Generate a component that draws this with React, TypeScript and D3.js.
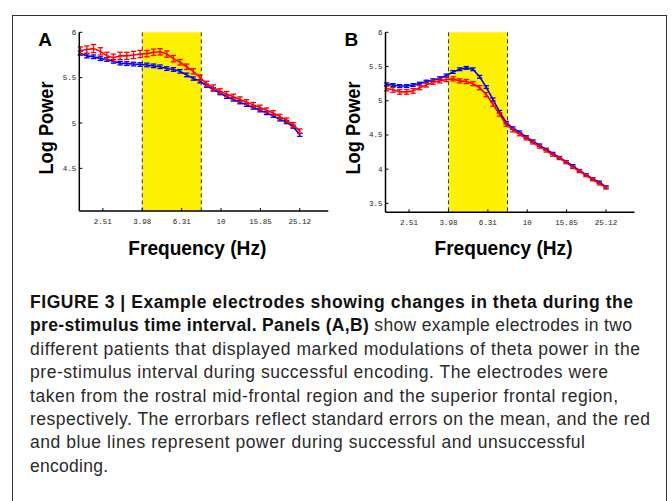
import React from "react"
import * as d3 from "d3"

// log-spaced analysis frequencies (Hz)
const FREQS = [
    1.93, 2.08, 2.25, 2.44, 2.63, 2.84, 3.07, 3.32, 3.59, 3.88, 4.2, 4.54,
    4.9, 5.3, 5.73, 6.19, 6.69, 7.23, 7.82, 8.45, 9.14, 9.88, 10.68, 11.54,
    12.48, 13.48, 14.58, 15.76, 17.03, 18.41, 19.9, 21.51, 23.25, 25.13,
]

// panel A, rostral mid-frontal electrode
const A_SUCCESS = [
    5.8, 5.81, 5.82, 5.79, 5.74, 5.72, 5.74, 5.74, 5.75, 5.76, 5.765, 5.78,
    5.785, 5.76, 5.71, 5.67, 5.62, 5.57, 5.5, 5.43, 5.39, 5.35, 5.32, 5.29,
    5.26, 5.23, 5.2, 5.17, 5.14, 5.11, 5.07, 5.03, 4.98, 4.91,
]
const A_SUCCESS_SE = [
    0.04, 0.04, 0.045, 0.04, 0.04, 0.04, 0.04, 0.04, 0.04, 0.04, 0.035, 0.035,
    0.035, 0.035, 0.035, 0.03, 0.03, 0.03, 0.03, 0.03, 0.03, 0.028, 0.028,
    0.028, 0.028, 0.027, 0.027, 0.027, 0.026, 0.026, 0.026, 0.025, 0.025, 0.025,
]
const A_FAIL = [
    5.77, 5.74, 5.73, 5.71, 5.7, 5.68, 5.66, 5.655, 5.65, 5.645, 5.64, 5.63,
    5.62, 5.6, 5.59, 5.57, 5.53, 5.49, 5.46, 5.41, 5.37, 5.33, 5.29, 5.26,
    5.23, 5.2, 5.17, 5.14, 5.11, 5.08, 5.04, 5.01, 4.96, 4.87,
]
const A_FAIL_SE = [
    0.022, 0.022, 0.02, 0.02, 0.02, 0.02, 0.02, 0.02, 0.02, 0.02, 0.02, 0.02,
    0.02, 0.02, 0.02, 0.02, 0.02, 0.018, 0.018, 0.018, 0.018, 0.018, 0.018,
    0.018, 0.018, 0.017, 0.017, 0.017, 0.017, 0.017, 0.017, 0.017, 0.017, 0.017,
]

// panel B, superior frontal electrode
const B_SUCCESS = [
    5.18, 5.16, 5.13, 5.13, 5.145, 5.19, 5.23, 5.27, 5.29, 5.31, 5.32, 5.29,
    5.28, 5.25, 5.19, 5.09, 4.95, 4.8, 4.65, 4.57, 4.51, 4.45, 4.39, 4.33,
    4.27, 4.21, 4.16, 4.1, 4.03, 3.97, 3.91, 3.85, 3.79, 3.73,
]
const B_SUCCESS_SE = [
    0.035, 0.035, 0.035, 0.035, 0.035, 0.03, 0.03, 0.03, 0.03, 0.03, 0.03,
    0.03, 0.03, 0.03, 0.03, 0.03, 0.03, 0.025, 0.025, 0.025, 0.022, 0.022,
    0.022, 0.022, 0.02, 0.02, 0.02, 0.02, 0.02, 0.02, 0.02, 0.02, 0.02, 0.02,
]
const B_FAIL = [
    5.24, 5.23, 5.215, 5.215, 5.23, 5.25, 5.28, 5.3, 5.33, 5.37, 5.42, 5.46,
    5.48, 5.46, 5.35, 5.2, 5.02, 4.84, 4.68, 4.6, 4.54, 4.47, 4.41, 4.35,
    4.29, 4.23, 4.17, 4.11, 4.05, 3.98, 3.92, 3.86, 3.81, 3.74,
]
const B_FAIL_SE = [
    0.02, 0.02, 0.02, 0.02, 0.02, 0.02, 0.02, 0.02, 0.02, 0.02, 0.02, 0.02,
    0.02, 0.02, 0.02, 0.02, 0.02, 0.018, 0.018, 0.018, 0.018, 0.018, 0.018,
    0.018, 0.016, 0.016, 0.016, 0.016, 0.016, 0.016, 0.016, 0.016, 0.016, 0.016,
]

const X_TICKS = [2.51, 3.98, 6.31, 10, 15.85, 25.12]
const A_Y_TICKS = [4.5, 5, 5.5, 6]
const B_Y_TICKS = [3.5, 4, 4.5, 5, 5.5, 6]
const THETA_BAND = [3.98, 7.94]

// caption: each line is a list of [text, bold]
const CAPTION: [string, boolean][][] = [
    [["FIGURE 3 | Example electrodes showing changes in theta during the", true]],
    [
        ["pre-stimulus time interval. Panels (A,B)", true],
        [" show example electrodes in two", false],
    ],
    [["different patients that displayed marked modulations of theta power in the", false]],
    [["pre-stimulus interval during successful encoding. The electrodes were", false]],
    [["taken from the rostral mid-frontal region and the superior frontal region,", false]],
    [["respectively. The errorbars reflect standard errors on the mean, and the red", false]],
    [["and blue lines represent power during successful and unsuccessful", false]],
    [["encoding.", false]],
]
// rendered width of each caption line in the page
const CAPTION_WIDTHS = [603, 602, 610, 578, 588, 620, 555, 78]

const W = 671
const H = 501
const AXIS_W = 249
const X_DOMAIN = [1.905, 35.08]
const RED = "#ff0000"
const BLUE = "#0000ff"
const SANS = "'Liberation Sans', Arial, sans-serif"
const MONO = "'Liberation Mono', 'DejaVu Sans Mono', monospace"

type Series = { mean: number[]; se: number[]; color: string }

type PanelProps = {
    label: string
    left: number
    top: number
    bottom: number
    yDomain: [number, number]
    yTicks: number[]
    series: Series[]
}

const Panel = ({ label, left, top, bottom, yDomain, yTicks, series }: PanelProps) => {
    const x = d3.scaleLog().domain(X_DOMAIN).range([left, left + AXIS_W])
    const y = d3.scaleLinear().domain(yDomain).range([bottom, top])
    const line = d3
        .line<number>()
        .x((_, i) => x(FREQS[i]))
        .y((d) => y(d))

    return (
        <g>
            {/* theta band */}
            <rect
                x={x(THETA_BAND[0])}
                y={top}
                width={x(THETA_BAND[1]) - x(THETA_BAND[0])}
                height={bottom - top}
                fill="#fff200"
            />
            {THETA_BAND.map((f) => (
                <line
                    key={f}
                    x1={x(f)}
                    x2={x(f)}
                    y1={top}
                    y2={bottom}
                    stroke="#333"
                    strokeWidth={1}
                    strokeDasharray="4,3"
                />
            ))}

            {series.map((s, si) => (
                <g key={si} stroke={s.color} fill="none">
                    {s.mean.map((m, i) => {
                        const cx = x(FREQS[i])
                        const y1 = y(m - s.se[i])
                        const y2 = y(m + s.se[i])
                        return (
                            <g key={i} strokeWidth={1.3}>
                                <line x1={cx} x2={cx} y1={y1} y2={y2} />
                                <line x1={cx - 2.7} x2={cx + 2.7} y1={y1} y2={y1} />
                                <line x1={cx - 2.7} x2={cx + 2.7} y1={y2} y2={y2} />
                            </g>
                        )
                    })}
                    <path d={line(s.mean) ?? ""} strokeWidth={1.6} />
                </g>
            ))}

            {/* axes */}
            <line x1={left} x2={left} y1={top} y2={bottom} stroke="#000" strokeWidth={1.5} />
            <line
                x1={left}
                x2={left + AXIS_W}
                y1={bottom}
                y2={bottom}
                stroke="#000"
                strokeWidth={1.5}
            />
            {yTicks.map((t) => (
                <g key={t}>
                    <line x1={left} x2={left + 3} y1={y(t)} y2={y(t)} stroke="#000" />
                    <text
                        x={left - 3}
                        y={y(t) + 2.5}
                        textAnchor="end"
                        fontFamily={MONO}
                        fontSize={7.5}
                        fill="#222"
                    >
                        {t}
                    </text>
                </g>
            ))}
            {X_TICKS.map((t) => (
                <g key={t}>
                    <line x1={x(t)} x2={x(t)} y1={bottom} y2={bottom - 3} stroke="#000" />
                    <text
                        x={x(t)}
                        y={bottom + 13}
                        textAnchor="middle"
                        fontFamily={MONO}
                        fontSize={7.5}
                        fill="#222"
                    >
                        {t}
                    </text>
                </g>
            ))}

            {/* labels */}
            <text
                x={left - 41}
                y={46}
                fontFamily={SANS}
                fontWeight="bold"
                fontSize={19}
            >
                {label}
            </text>
            <text
                transform={`translate(${left - 26},128) rotate(-90)`}
                textAnchor="middle"
                fontFamily={SANS}
                fontWeight="bold"
                fontSize={20}
                textLength={93}
                lengthAdjust="spacingAndGlyphs"
            >
                Log Power
            </text>
            <text
                x={left + 118}
                y={255}
                textAnchor="middle"
                fontFamily={SANS}
                fontWeight="bold"
                fontSize={20}
                textLength={138}
                lengthAdjust="spacingAndGlyphs"
            >
                Frequency (Hz)
            </text>
        </g>
    )
}

export default function App() {
    return (
        <svg
            width={W}
            height={H}
            style={{ position: "absolute", left: 0, top: 0, background: "#fff" }}
        >
            <rect x={12.5} y={15.5} width={654} height={520} fill="none" stroke="#333" strokeWidth={1} />
            <Panel
                label="A"
                left={79.3}
                top={32.3}
                bottom={211}
                yDomain={[4.03, 6]}
                yTicks={A_Y_TICKS}
                series={[
                    { mean: A_FAIL, se: A_FAIL_SE, color: BLUE },
                    { mean: A_SUCCESS, se: A_SUCCESS_SE, color: RED },
                ]}
            />
            <Panel
                label="B"
                left={385.5}
                top={32.3}
                bottom={212.3}
                yDomain={[3.37, 6]}
                yTicks={B_Y_TICKS}
                series={[
                    { mean: B_FAIL, se: B_FAIL_SE, color: BLUE },
                    { mean: B_SUCCESS, se: B_SUCCESS_SE, color: RED },
                ]}
            />
            {CAPTION.map((parts, i) => (
                <text
                    key={i}
                    x={30}
                    y={308 + i * 23.4}
                    fontFamily={SANS}
                    fontSize={17.5}
                    fill="#222"
                    textLength={CAPTION_WIDTHS[i]}
                    lengthAdjust="spacing"
                >
                    {parts.map(([t, bold], j) => (
                        <tspan key={j} fontWeight={bold ? "bold" : "normal"} fill={bold ? "#111" : "#2a2a2a"}>
                            {t}
                        </tspan>
                    ))}
                </text>
            ))}
        </svg>
    )
}
